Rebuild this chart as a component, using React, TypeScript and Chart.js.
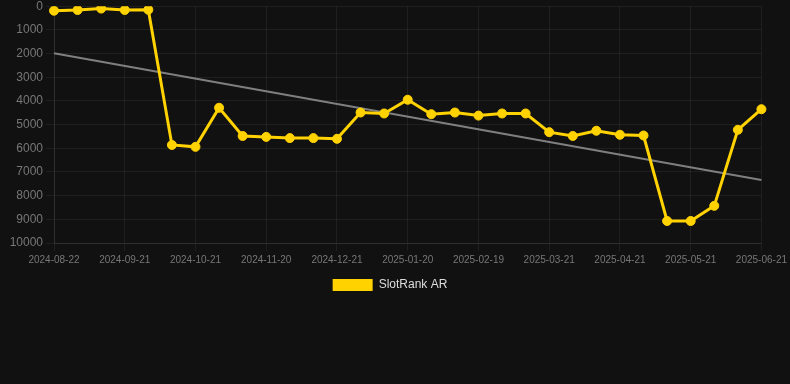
import React, { useEffect, useRef } from "react";
import { Chart, registerables } from "chart.js";

Chart.register(...registerables);

const labels = [
  "2024-08-22", "2024-09-01", "2024-09-11", "2024-09-21", "2024-10-01", "2024-10-11",
  "2024-10-21", "2024-10-31", "2024-11-10", "2024-11-20", "2024-11-30", "2024-12-10",
  "2024-12-21", "2024-12-31", "2025-01-10", "2025-01-20", "2025-01-30", "2025-02-09",
  "2025-02-19", "2025-03-01", "2025-03-11", "2025-03-21", "2025-03-31", "2025-04-10",
  "2025-04-21", "2025-05-01", "2025-05-11", "2025-05-21", "2025-05-31", "2025-06-10",
  "2025-06-21",
];

const rankValues = [
  190, 160, 100, 160, 150, 5860, 5940, 4290, 5480, 5520,
  5570, 5570, 5600, 4490, 4530, 3950, 4560, 4490, 4620, 4530,
  4530, 5320, 5480, 5260, 5430, 5460, 9070, 9070, 8430, 5220,
  4350,
];

const trendStart = 1990;
const trendEnd = 7340;

const yTicks = { min: 0, max: 10000, step: 1000 };

const FONT = "'Liberation Sans', Arial, sans-serif";
const YELLOW = "#FFD200";

export default function App() {
  const ref = useRef<HTMLCanvasElement | null>(null);

  useEffect(() => {
    document.body.style.margin = "0";
    document.body.style.background = "#111111";
    if (!ref.current) return;
    const trend = labels.map((_, i) =>
      i === 0 ? trendStart : i === labels.length - 1 ? trendEnd : null
    );
    const chart = new Chart(ref.current, {
      type: "line",
      data: {
        labels,
        datasets: [
          {
            label: "SlotRank AR",
            data: rankValues,
            borderColor: YELLOW,
            backgroundColor: YELLOW,
            borderWidth: 3,
            pointRadius: 4.5,
            pointBorderWidth: 1,
            pointHoverRadius: 4.5,
            pointBackgroundColor: YELLOW,
            pointBorderColor: YELLOW,
            tension: 0,
          },
          {
            label: "trend",
            data: trend,
            borderColor: "rgba(140,140,140,0.9)",
            backgroundColor: "rgba(140,140,140,0.9)",
            borderWidth: 2,
            pointRadius: 0,
            spanGaps: true,
          },
        ],
      },
      options: {
        animation: false,
        responsive: true,
        maintainAspectRatio: false,
        layout: { padding: { left: 0, right: 10, top: 0, bottom: 0 } },
        plugins: {
          legend: {
            position: "bottom",
            labels: {
              color: "#dddddd",
              font: { size: 12, family: FONT },
              boxWidth: 40,
              boxHeight: 12,
              generateLabels: (c: any) =>
                Chart.defaults.plugins.legend.labels
                  .generateLabels(c)
                  .filter((it: any) => it.text !== "trend")
                  .map((it: any) => ({ ...it, lineWidth: 0, strokeStyle: "rgba(0,0,0,0)" })),
            },
          },
          tooltip: { enabled: false },
        },
        scales: {
          x: {
            grid: { color: "rgba(255,255,255,0.06)", drawTicks: true },
            border: { color: "rgba(255,255,255,0.08)" },
            ticks: {
              color: "#777777",
              autoSkip: false,
              maxRotation: 0,
              font: { size: 10, family: FONT },
              callback: function (this: any, val: any, index: number) {
                return index % 3 === 0 ? this.getLabelForValue(val) : null;
              },
            },
          },
          y: {
            reverse: true,
            min: yTicks.min,
            max: yTicks.max,
            grid: { color: "rgba(255,255,255,0.06)" },
            border: { color: "rgba(255,255,255,0.08)" },
            afterFit: (s: any) => {
              s.width = 54;
            },
            ticks: {
              stepSize: yTicks.step,
              color: "#777777",
              font: { size: 12, family: FONT },
              callback: (v: any) => String(v),
            },
          },
        },
      },
    });
    return () => chart.destroy();
  }, []);

  return (
    <div style={{ width: 790, height: 384, background: "#111111", overflow: "hidden" }}>
      <div style={{ position: "relative", width: 790, height: 305, marginTop: -4 }}>
        <canvas ref={ref} />
      </div>
    </div>
  );
}
